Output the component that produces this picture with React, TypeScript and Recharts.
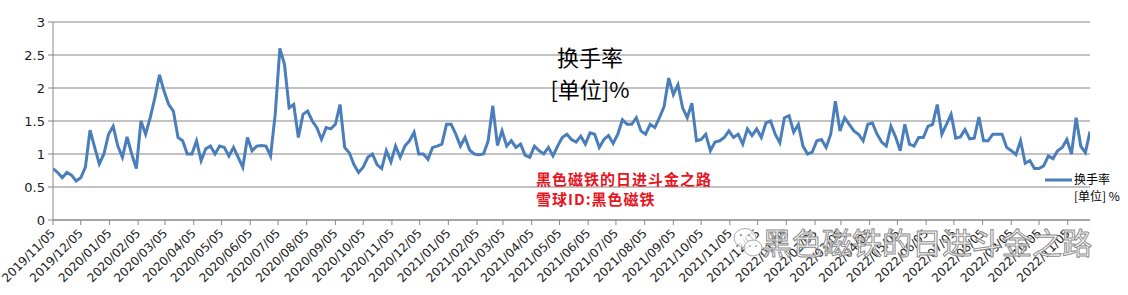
import React from "react";
import { CartesianGrid, Line, LineChart, XAxis, YAxis } from "recharts";

// 换手率 sampled every 5 calendar days from 2019/11/05
const START_DATE = "2019/11/05";
const STEP_DAYS = 5;

const turnover = [
  0.78, 0.72, 0.64, 0.72, 0.68, 0.59, 0.64, 0.8, 1.36, 1.1,
  0.85, 1.0, 1.3, 1.42, 1.12, 0.95, 1.26, 1.0, 0.78, 1.5,
  1.3, 1.55, 1.85, 2.2, 1.95, 1.75, 1.65, 1.25, 1.2, 1.0,
  1.0, 1.2, 0.9, 1.08, 1.12, 1.0, 1.12, 1.1, 0.97, 1.1,
  0.95, 0.8, 1.25, 1.05, 1.12, 1.13, 1.12, 0.97, 1.6, 2.6,
  2.36, 1.7, 1.75, 1.25, 1.6, 1.65, 1.5, 1.4, 1.22, 1.4,
  1.38, 1.45, 1.75, 1.1, 1.02, 0.84, 0.72, 0.8, 0.95, 1.0,
  0.84, 0.78, 1.05, 0.88, 1.12, 0.95, 1.12, 1.2, 1.33, 1.0,
  1.0, 0.92, 1.1, 1.12, 1.15, 1.45, 1.45, 1.3, 1.12, 1.25,
  1.06, 1.0, 0.99, 1.0, 1.2, 1.73, 1.13, 1.35, 1.12, 1.2,
  1.1, 1.15, 0.98, 0.95, 1.12, 1.05, 1.0, 1.1, 0.97, 1.12,
  1.25, 1.3, 1.22, 1.18, 1.27, 1.15, 1.32, 1.3, 1.1, 1.22,
  1.28, 1.16, 1.3, 1.52, 1.45, 1.45, 1.55, 1.35, 1.3, 1.45,
  1.4, 1.55, 1.72, 2.15, 1.9, 2.05, 1.7, 1.55, 1.77, 1.2,
  1.22, 1.3, 1.05, 1.18, 1.2, 1.25, 1.35, 1.25, 1.3, 1.15,
  1.38, 1.28, 1.38, 1.25, 1.47, 1.5, 1.3, 1.17, 1.55, 1.58,
  1.33, 1.45, 1.12, 1.0, 1.03, 1.2, 1.22, 1.1, 1.3, 1.8,
  1.35, 1.55, 1.45, 1.35, 1.3, 1.2, 1.45, 1.47, 1.3, 1.18,
  1.12, 1.42, 1.26, 1.05, 1.45, 1.15, 1.12, 1.25, 1.25, 1.42,
  1.45, 1.75, 1.3, 1.45, 1.6, 1.24, 1.26, 1.37, 1.23, 1.24,
  1.56, 1.2, 1.2, 1.3, 1.3, 1.3, 1.1, 1.05, 0.99, 1.2,
  0.86, 0.9, 0.78, 0.78, 0.82, 0.97, 0.93, 1.05, 1.1, 1.22,
  1.0, 1.55, 1.12, 1.02, 1.34,
];

const monthTicks = [
  "2019/11/05", "2019/12/05", "2020/01/05", "2020/02/05", "2020/03/05",
  "2020/04/05", "2020/05/05", "2020/06/05", "2020/07/05", "2020/08/05",
  "2020/09/05", "2020/10/05", "2020/11/05", "2020/12/05", "2021/01/05",
  "2021/02/05", "2021/03/05", "2021/04/05", "2021/05/05", "2021/06/05",
  "2021/07/05", "2021/08/05", "2021/09/05", "2021/10/05", "2021/11/05",
  "2021/12/05", "2022/01/05", "2022/02/05", "2022/03/05", "2022/04/05",
  "2022/05/05", "2022/06/05", "2022/07/05", "2022/08/05", "2022/09/05",
  "2022/10/05", "2022/11/05",
];

const yTicks = [0, 0.5, 1, 1.5, 2, 2.5, 3];

const toUtc = (s: string) => {
  const [y, m, d] = s.split("/").map(Number);
  return Date.UTC(y, m - 1, d);
};
const DAY = 86400000;
const dayIndex = (s: string) => Math.round((toUtc(s) - toUtc(START_DATE)) / DAY);
const dayLabel = (n: number) => {
  const dt = new Date(toUtc(START_DATE) + n * DAY);
  const mm = String(dt.getUTCMonth() + 1).padStart(2, "0");
  const dd = String(dt.getUTCDate()).padStart(2, "0");
  return `${dt.getUTCFullYear()}/${mm}/${dd}`;
};

const data = turnover.map((v, i) => ({ day: i * STEP_DAYS, value: v }));
const lastDay = (turnover.length - 1) * STEP_DAYS;
const tickDays = monthTicks.map(dayIndex);

const LINE_BLUE = "#4a7ebb";
const GRID = "#878787";
const AXIS_FONT = "DejaVu Sans, Verdana, sans-serif";
const CJK = "'Noto Sans CJK SC', sans-serif";

function DateTick(props: any) {
  const { x, y, payload } = props;
  return (
    <g transform={`translate(${x + 3},${y + 7})`}>
      <text
        textAnchor="end"
        transform="rotate(-45)"
        fontSize={12}
        fontFamily={AXIS_FONT}
        fill="#1a1a1a"
      >
        {dayLabel(payload.value)}
      </text>
    </g>
  );
}

function Overlay() {
  return (
    <svg
      width={1128}
      height={295}
      style={{ position: "absolute", left: 0, top: 0, pointerEvents: "none" }}
    >
      {/* title */}
      <text x={590} y={66} textAnchor="middle" fontSize={22} fontFamily={CJK} fill="#000">
        换手率
      </text>
      <text x={590} y={98} textAnchor="middle" fontSize={22} fontFamily={CJK} fill="#000">
        [单位]%
      </text>

      {/* red signature */}
      <text x={536} y={185} fontSize={15} letterSpacing={1} fontWeight="bold" fontFamily={CJK} fill="#e8141e">
        黑色磁铁的日进斗金之路
      </text>
      <text x={536} y={205} fontSize={15} letterSpacing={1} fontWeight="bold" fontFamily={CJK} fill="#e8141e">
        雪球ID:黑色磁铁
      </text>

      {/* legend */}
      <line x1={1045} y1={180} x2={1072} y2={180} stroke={LINE_BLUE} strokeWidth={3} />
      <text x={1074} y={184} fontSize={12} fontFamily={CJK} fill="#000">
        换手率
      </text>
      <text x={1074} y={201} fontSize={12} fontFamily={CJK} fill="#000">
        [单位] %
      </text>

      {/* watermark */}
      <g fill="rgba(255,255,255,0.8)" stroke="#a8a8a8" strokeWidth={1}>
        <ellipse cx={745} cy={238} rx={11} ry={9.5} />
        <ellipse cx={753} cy={248} rx={9} ry={8} />
      </g>
      <g fill="#a8a8a8">
        <circle cx={741} cy={235} r={1.3} />
        <circle cx={749} cy={235} r={1.3} />
        <circle cx={750} cy={246} r={1} />
        <circle cx={756} cy={246} r={1} />
      </g>
      <text
        x={762}
        y={254}
        fontSize={30}
        fontFamily={CJK}
        fill="rgba(255,255,255,0.85)"
        stroke="#8c8c8c"
        strokeWidth={1}
      >
        黑色磁铁的日进斗金之路
      </text>
    </svg>
  );
}

export default function App() {
  return (
    <div style={{ position: "relative", width: 1128, height: 295, background: "#fff" }}>
      <style>{"body{margin:0;}"}</style>
      <LineChart
        width={1128}
        height={295}
        data={data}
        margin={{ top: 22, right: 38, left: 0, bottom: 0 }}
      >
        <CartesianGrid vertical={false} stroke={GRID} strokeWidth={1} />
        <XAxis
          dataKey="day"
          type="number"
          domain={[0, lastDay]}
          ticks={tickDays}
          interval={0}
          height={75}
          tick={<DateTick />}
          tickSize={5}
          tickMargin={2}
          axisLine={{ stroke: GRID }}
          tickLine={{ stroke: GRID }}
          allowDataOverflow
        />
        <YAxis
          width={53}
          domain={[0, 3]}
          ticks={yTicks}
          tickSize={5}
          tickMargin={3}
          axisLine={{ stroke: GRID }}
          tickLine={{ stroke: GRID }}
          tick={{ fontSize: 13, fontFamily: AXIS_FONT, fill: "#1a1a1a" }}
        />
        <Line
          type="linear"
          dataKey="value"
          stroke={LINE_BLUE}
          strokeWidth={3}
          dot={false}
          isAnimationActive={false}
        />
      </LineChart>
      <Overlay />
    </div>
  );
}
